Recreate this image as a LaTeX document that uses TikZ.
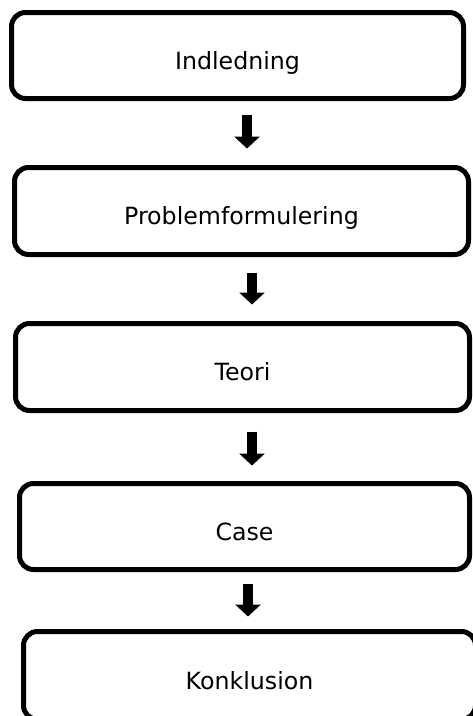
\documentclass[tikz,border=0pt]{standalone}
\usepackage{fontspec}
\setmainfont{DejaVu Sans}
\usetikzlibrary{arrows.meta}
\begin{document}
\begin{tikzpicture}[x=1pt,y=-1pt,
  box/.style={draw=black, line width=5pt, rounded corners=14pt, fill=white,
    inner sep=0pt, font=\fontsize{23.7}{28}\selectfont,
    text height=27.3pt, text depth=0pt},
  flow/.style={line width=9.5pt, -{Triangle[width=25pt,length=12pt]}}]
  \clip (0,0) rectangle (473,716);
  \fill[white] (0,0) rectangle (473,716);

  % stages
  \node[box, minimum width=452pt, minimum height=86pt] (b1) at (237.5,55.5) {Indledning};
  \node[box, minimum width=454pt, minimum height=87pt] (b2) at (241.5,211) {Problemformulering};
  \node[box, minimum width=454pt, minimum height=87pt] (b3) at (242.5,367) {Teori};
  \node[box, minimum width=450pt, minimum height=86pt] (b4) at (244.5,526.5) {Case};
  \node[box, minimum width=452pt, minimum height=88pt] (b5) at (249.5,675.5) {Konklusion};

  % arrow columns
  \coordinate (c1) at (247,0);
  \coordinate (c2) at (252,0);
  \coordinate (c3) at (252,0);
  \coordinate (c4) at (248,0);

  \draw[flow, shorten <=14pt, shorten >=16.5pt] (b1.south -| c1) -- (b2.north -| c1);
  \draw[flow, shorten <=15.5pt, shorten >=16.5pt] (b2.south -| c2) -- (b3.north -| c2);
  \draw[flow, shorten <=18.5pt, shorten >=15.5pt] (b3.south -| c3) -- (b4.north -| c3);
  \draw[flow, shorten <=12pt, shorten >=12.5pt] (b4.south -| c4) -- (b5.north -| c4);
\end{tikzpicture}
\end{document}
